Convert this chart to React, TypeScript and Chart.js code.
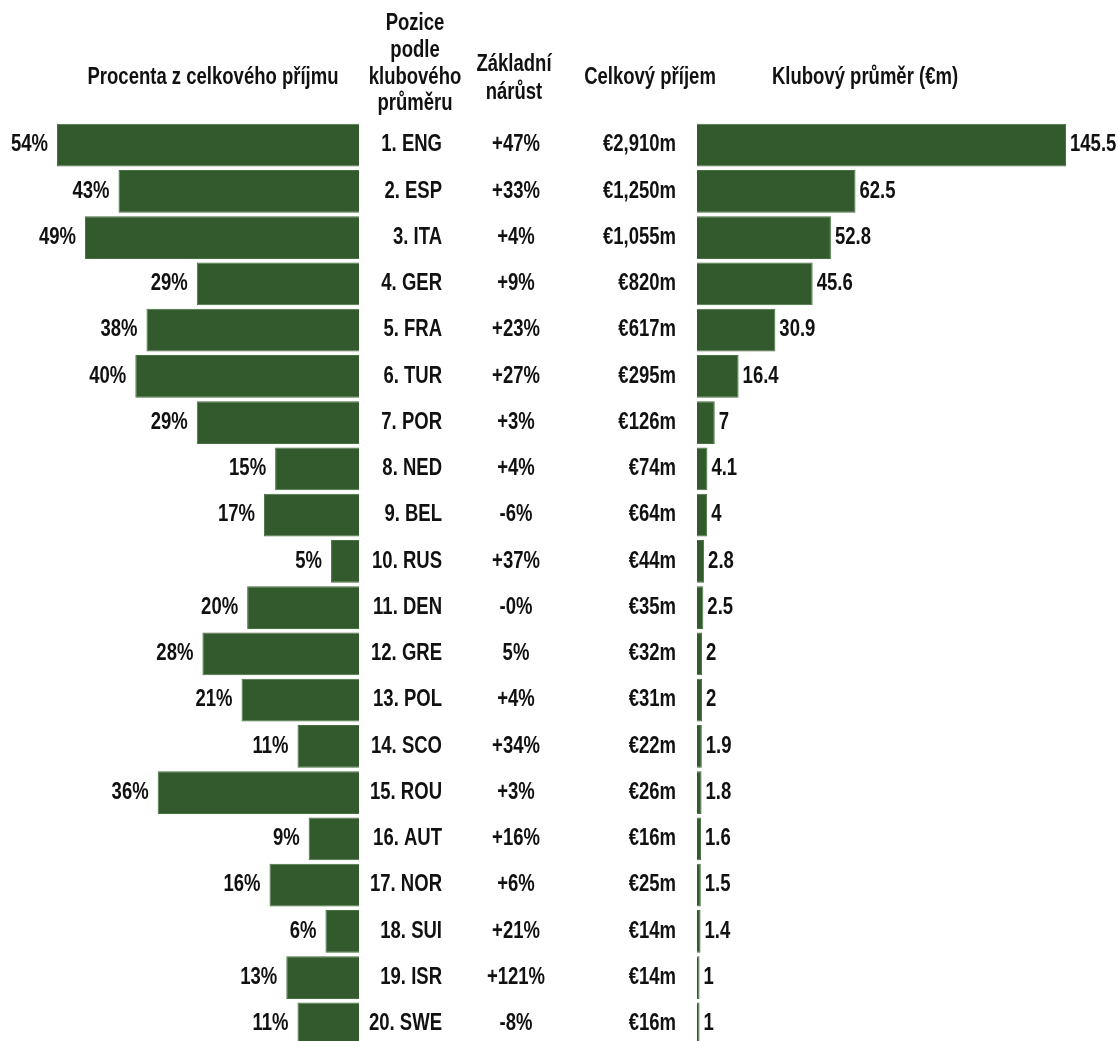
import React, { useEffect, useRef } from "react";
import { Chart, registerables } from "chart.js";

Chart.register(...registerables);

const categories = [
  "1. ENG", "2. ESP", "3. ITA", "4. GER", "5. FRA", "6. TUR", "7. POR", "8. NED", "9. BEL", "10. RUS",
  "11. DEN", "12. GRE", "13. POL", "14. SCO", "15. ROU", "16. AUT", "17. NOR", "18. SUI", "19. ISR", "20. SWE",
];
const shareOfRevenue = [54, 43, 49, 29, 38, 40, 29, 15, 17, 5, 20, 28, 21, 11, 36, 9, 16, 6, 13, 11];
const baseGrowth = [
  "+47%", "+33%", "+4%", "+9%", "+23%", "+27%", "+3%", "+4%", "-6%", "+37%",
  "-0%", "5%", "+4%", "+34%", "+3%", "+16%", "+6%", "+21%", "+121%", "-8%",
];
const totalRevenue = [
  "€2,910m", "€1,250m", "€1,055m", "€820m", "€617m", "€295m", "€126m", "€74m", "€64m", "€44m",
  "€35m", "€32m", "€31m", "€22m", "€26m", "€16m", "€25m", "€14m", "€14m", "€16m",
];
const clubAverage = [145.5, 62.5, 52.8, 45.6, 30.9, 16.4, 7, 4.1, 4, 2.8, 2.5, 2, 2, 1.9, 1.8, 1.6, 1.5, 1.4, 1, 1];

const headerLeft = "Procenta z celkového příjmu";
const headerPosition = ["Pozice", "podle", "klubového", "průměru"];
const headerGrowth = ["Základní", "nárůst"];
const headerTotal = "Celkový příjem";
const headerAverage = "Klubový průměr (€m)";

const BAR = "#325a2d";
const BORDER = "#46723f";
const TEXT = "#111111";
const FONT = "bold 23px 'Liberation Sans', Arial, sans-serif";

function getScaleX(ctx: CanvasRenderingContext2D) {
  ctx.save();
  ctx.font = FONT;
  const w = ctx.measureText(headerLeft).width;
  ctx.restore();
  return w > 0 ? 251 / w : 1;
}

function drawText(
  ctx: CanvasRenderingContext2D,
  text: string,
  x: number,
  y: number,
  align: CanvasTextAlign,
  sx: number
) {
  ctx.save();
  ctx.translate(x, y);
  ctx.scale(sx, 1);
  ctx.font = FONT;
  ctx.fillStyle = TEXT;
  ctx.textAlign = align;
  ctx.textBaseline = "middle";
  ctx.fillText(text, 0, 0);
  ctx.restore();
}

const LEFT_W = 362;
const RIGHT_W = 1118 - LEFT_W;
const H = 1060;

export default function App() {
  const leftRef = useRef<HTMLCanvasElement | null>(null);
  const rightRef = useRef<HTMLCanvasElement | null>(null);

  useEffect(() => {
    if (!leftRef.current || !rightRef.current) return;

    const leftPlugin = {
      id: "leftText",
      afterDatasetsDraw(chart: any) {
        const ctx = chart.ctx as CanvasRenderingContext2D;
        const sx = getScaleX(ctx);
        const meta = chart.getDatasetMeta(0);
        meta.data.forEach((bar: any, i: number) => {
          drawText(ctx, shareOfRevenue[i] + "%", bar.x - 9, bar.y, "right", sx);
        });
        drawText(ctx, headerLeft, 213, 78, "center", sx);
      },
    };

    const rightPlugin = {
      id: "rightText",
      afterDatasetsDraw(chart: any) {
        const ctx = chart.ctx as CanvasRenderingContext2D;
        const sx = getScaleX(ctx);
        const meta = chart.getDatasetMeta(0);
        const off = LEFT_W;
        meta.data.forEach((bar: any, i: number) => {
          drawText(ctx, String(clubAverage[i]), bar.x + 4, bar.y, "left", sx);
          drawText(ctx, categories[i], 442 - off, bar.y, "right", sx);
          drawText(ctx, baseGrowth[i], 516 - off, bar.y, "center", sx);
          drawText(ctx, totalRevenue[i], 676 - off, bar.y, "right", sx);
        });
        const posY = [24, 51, 78, 104];
        headerPosition.forEach((t, k) => drawText(ctx, t, 415 - off, posY[k], "center", sx));
        const grY = [65, 93];
        headerGrowth.forEach((t, k) => drawText(ctx, t, 514 - off, grY[k], "center", sx));
        drawText(ctx, headerTotal, 650 - off, 78, "center", sx);
        drawText(ctx, headerAverage, 865 - off, 78, "center", sx);
      },
    };

    const common = (padding: any) => ({
      animation: false as const,
      responsive: true,
      maintainAspectRatio: false,
      indexAxis: "y" as const,
      layout: { padding },
      plugins: { legend: { display: false }, tooltip: { enabled: false } },
    });

    const left = new Chart(leftRef.current, {
      type: "bar",
      data: {
        labels: categories,
        datasets: [
          {
            data: shareOfRevenue,
            backgroundColor: BAR,
            borderColor: BORDER,
            borderWidth: 1,
            barPercentage: 0.92,
            categoryPercentage: 1,
          },
        ],
      },
      options: {
        ...common({ left: 57, right: LEFT_W - 359, top: 122, bottom: H - 1047 }),
        scales: {
          x: { display: false, min: 0, max: 54, reverse: true },
          y: { display: false },
        },
      },
      plugins: [leftPlugin],
    });

    const right = new Chart(rightRef.current, {
      type: "bar",
      data: {
        labels: categories,
        datasets: [
          {
            data: clubAverage,
            backgroundColor: BAR,
            borderColor: BORDER,
            borderWidth: 1,
            barPercentage: 0.92,
            categoryPercentage: 1,
          },
        ],
      },
      options: {
        ...common({ left: 697 - LEFT_W, right: 1118 - 1066, top: 122, bottom: H - 1047 }),
        scales: {
          x: { display: false, min: 0, max: 145.5 },
          y: { display: false },
        },
      },
      plugins: [rightPlugin],
    });

    return () => {
      left.destroy();
      right.destroy();
    };
  }, []);

  return (
    <div
      style={{
        position: "absolute",
        left: 0,
        top: 0,
        width: 1118,
        height: 1041,
        overflow: "hidden",
        background: "#ffffff",
      }}
    >
      <div style={{ position: "absolute", left: 0, top: 0, width: LEFT_W, height: H }}>
        <canvas ref={leftRef} />
      </div>
      <div style={{ position: "absolute", left: LEFT_W, top: 0, width: RIGHT_W, height: H }}>
        <canvas ref={rightRef} />
      </div>
    </div>
  );
}
